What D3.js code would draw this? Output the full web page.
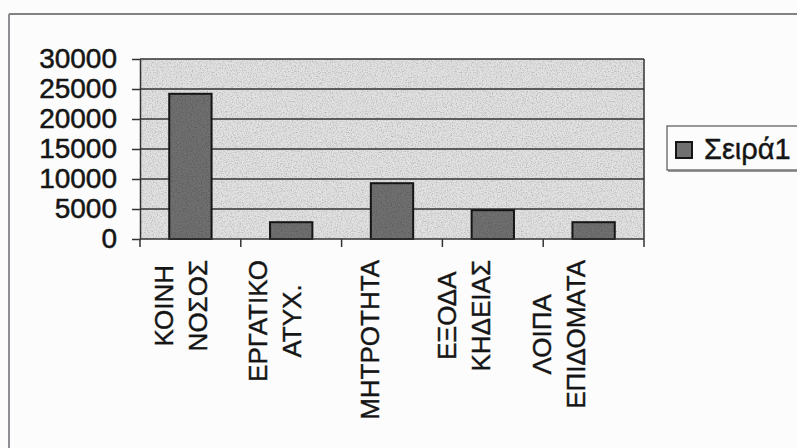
<!DOCTYPE html>
<html>
<head>
<meta charset="utf-8">
<script src="https://cdn.jsdelivr.net/npm/d3@7"></script>
<style>
  body { margin: 0; background: #fbfcfb; }
  svg { display: block; }
</style>
</head>
<body>
<svg id="chart"></svg>
<script>
const categories = ["ΚΟΙΝΗ ΝΟΣΟΣ", "ΕΡΓΑΤΙΚΟ ΑΤΥΧ.", "ΜΗΤΡΟΤΗΤΑ", "ΕΞΟΔΑ ΚΗΔΕΙΑΣ", "ΛΟΙΠΑ ΕΠΙΔΟΜΑΤΑ"];
const values = [24200, 2800, 9300, 4800, 2800];
const yTicks = [0, 5000, 10000, 15000, 20000, 25000, 30000];
const seriesName = "Σειρά1";

const width = 797, height = 448;
const margin = { top: 59, right: 153, bottom: 209, left: 140 };
const font = "'Liberation Sans', Arial, sans-serif";
const ink = "#151515";
const gridColor = "#333";

const svg = d3.select("#chart").attr("width", width).attr("height", height);

// scanned-paper grain, used on the plot area and bars
const defs = svg.append("defs");
const grain = defs.append("filter").attr("id", "grain")
    .attr("x", 0).attr("y", 0).attr("width", 1).attr("height", 1);
grain.append("feTurbulence")
    .attr("type", "fractalNoise").attr("baseFrequency", 0.8)
    .attr("numOctaves", 2).attr("seed", 3).attr("result", "noise");
grain.append("feColorMatrix").attr("in", "noise").attr("type", "matrix")
    .attr("values", "0 0 0 0 0  0 0 0 0 0  0 0 0 0 0  0 0 0 -0.9 0.52")
    .attr("result", "dots");
grain.append("feComposite").attr("in", "dots").attr("in2", "SourceGraphic")
    .attr("operator", "atop");

// outer chart frame (runs off the page on the right and bottom)
svg.append("line")
    .attr("x1", 9).attr("x2", width).attr("y1", 14).attr("y2", 14)
    .attr("stroke", "#5a5a5a").attr("stroke-width", 1.5);
svg.append("line")
    .attr("x1", 9).attr("x2", 9).attr("y1", 14).attr("y2", height)
    .attr("stroke", "#8c8e92").attr("stroke-width", 2);

const x = d3.scaleBand(categories, [margin.left, width - margin.right])
    .paddingInner(0.58)
    .paddingOuter(0.29);
const y = d3.scaleLinear([0, 30000], [height - margin.bottom, margin.top]);

// labels sit a little left of the bands, as in the scan
const labelX = d3.scalePoint(categories, [margin.left + 40, margin.left + 418]);

// plot area
svg.append("rect")
    .attr("x", margin.left).attr("y", margin.top)
    .attr("width", width - margin.left - margin.right)
    .attr("height", height - margin.top - margin.bottom)
    .attr("fill", "#e2e2e3")
    .attr("filter", "url(#grain)");

// gridlines
svg.append("g")
    .attr("stroke", gridColor)
    .attr("stroke-width", 1.5)
    .selectAll("line")
    .data(yTicks.filter(d => d > 0))
    .join("line")
    .attr("x1", margin.left).attr("x2", width - margin.right)
    .attr("y1", d => y(d)).attr("y2", d => y(d));

// right border of plot area
svg.append("line")
    .attr("x1", width - margin.right).attr("x2", width - margin.right)
    .attr("y1", margin.top).attr("y2", height - margin.bottom)
    .attr("stroke", gridColor).attr("stroke-width", 1.5);

// bars
svg.append("g")
    .selectAll("rect")
    .data(values)
    .join("rect")
    .attr("x", (d, i) => x(categories[i]))
    .attr("y", d => y(d))
    .attr("width", x.bandwidth())
    .attr("height", d => y(0) - y(d))
    .attr("fill", "#707070")
    .attr("filter", "url(#grain)");
svg.append("g")
    .selectAll("rect")
    .data(values)
    .join("rect")
    .attr("x", (d, i) => x(categories[i]))
    .attr("y", d => y(d))
    .attr("width", x.bandwidth())
    .attr("height", d => y(0) - y(d))
    .attr("fill", "none")
    .attr("stroke", ink)
    .attr("stroke-width", 2);

// y axis
const yAxis = svg.append("g")
    .attr("transform", `translate(${margin.left},0)`)
    .call(d3.axisLeft(y).tickValues(yTicks).tickFormat(d3.format("d"))
        .tickSize(8).tickPadding(15).tickSizeOuter(0));
yAxis.select(".domain").attr("stroke", gridColor).attr("stroke-width", 1.5);
yAxis.selectAll(".tick line").attr("stroke", gridColor).attr("stroke-width", 1.5);
yAxis.selectAll(".tick text")
    .attr("font-family", font)
    .attr("font-size", 28)
    .attr("fill", ink)
    .attr("stroke", ink)
    .attr("stroke-width", 0.5);

// x axis: baseline and boundary ticks
const xAxisY = y(0);
const boundaries = categories.map(c => x(c) - x.step() * x.paddingInner() / 2)
    .concat([width - margin.right]);
svg.append("line")
    .attr("x1", margin.left).attr("x2", width - margin.right)
    .attr("y1", xAxisY).attr("y2", xAxisY)
    .attr("stroke", gridColor).attr("stroke-width", 1.5);
svg.append("g")
    .selectAll("line")
    .data(boundaries)
    .join("line")
    .attr("x1", d => d).attr("x2", d => d)
    .attr("y1", xAxisY).attr("y2", xAxisY + 8)
    .attr("stroke", gridColor).attr("stroke-width", 1.5);

// category labels, rotated
const lineGap = 34;
const labels = svg.append("g")
    .attr("font-family", font)
    .attr("font-size", 26)
    .attr("fill", ink)
    .attr("stroke", ink)
    .attr("stroke-width", 0.4)
    .attr("text-anchor", "middle")
    .selectAll("text")
    .data(categories)
    .join("text");
labels.each(function(d) {
    const lines = d.split(" ");
    const t = d3.select(this);
    lines.forEach((line, i) => {
        t.append("tspan")
            .attr("x", 0)
            .attr("y", (i - (lines.length - 1) / 2) * lineGap + 9.5)
            .text(line);
    });
    let maxLen = 0;
    t.selectAll("tspan").each(function() {
        maxLen = Math.max(maxLen, this.getComputedTextLength());
    });
    t.attr("transform", `translate(${labelX(d)},${xAxisY + 21 + maxLen / 2}) rotate(-90)`);
});

// legend
const legend = svg.append("g").attr("transform", "translate(667,126)");
legend.append("rect")
    .attr("width", 160).attr("height", 44)
    .attr("fill", "#fbfcfb")
    .attr("stroke", "#555")
    .attr("stroke-width", 1.2);
legend.append("line")
    .attr("x1", 1).attr("x2", 160).attr("y1", 45).attr("y2", 45)
    .attr("stroke", "#777").attr("stroke-width", 1.5);
legend.append("rect")
    .attr("x", 9).attr("y", 16)
    .attr("width", 16).attr("height", 16)
    .attr("fill", "#707070")
    .attr("stroke", ink)
    .attr("stroke-width", 2);
legend.append("text")
    .attr("x", 37).attr("y", 33)
    .attr("font-family", font)
    .attr("font-size", 29)
    .attr("fill", ink)
    .attr("stroke", ink)
    .attr("stroke-width", 0.4)
    .text(seriesName);
</script>
</body>
</html>
